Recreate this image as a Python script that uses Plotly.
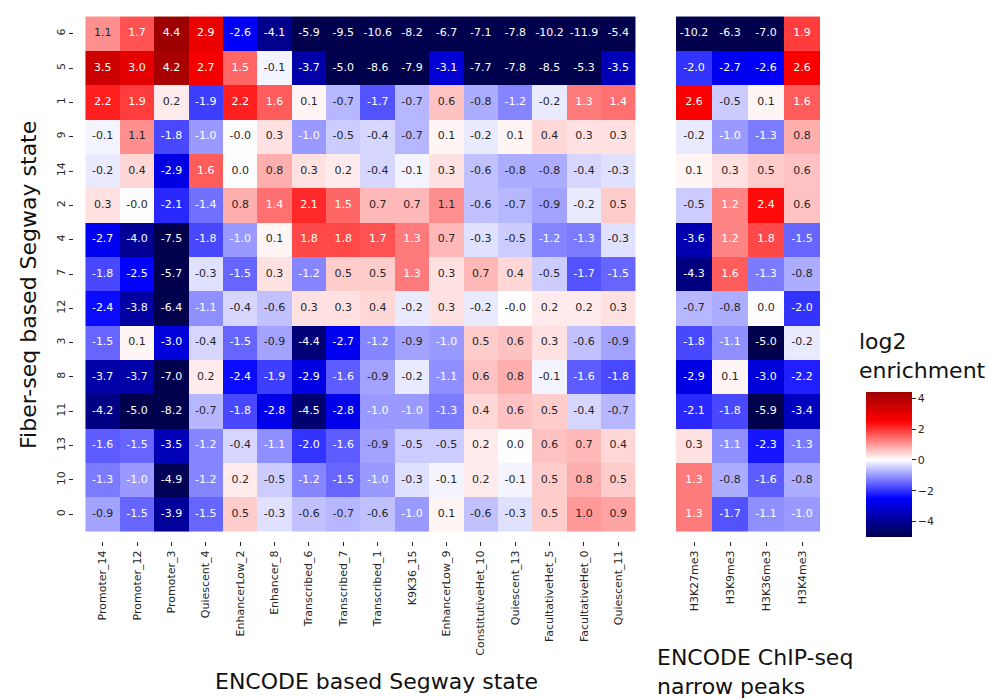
import plotly.graph_objects as go

rows = ["6", "5", "1", "9", "14", "2", "4", "7", "12", "3", "8", "11", "13", "10", "0"]
segway_states = ["Promoter_14", "Promoter_12", "Promoter_3", "Quiescent_4", "EnhancerLow_2",
                 "Enhancer_8", "Transcribed_6", "Transcribed_7", "Transcribed_1", "K9K36_15",
                 "EnhancerLow_9", "ConstitutiveHet_10", "Quiescent_13", "FacultativeHet_5",
                 "FacultativeHet_0", "Quiescent_11"]
chip_marks = ["H3K27me3", "H3K9me3", "H3K36me3", "H3K4me3"]

segway_values = [
    [1.1, 1.7, 4.4, 2.9, -2.6, -4.1, -5.9, -9.5, -10.6, -8.2, -6.7, -7.1, -7.8, -10.2, -11.9, -5.4],
    [3.5, 3.0, 4.2, 2.7, 1.5, -0.1, -3.7, -5.0, -8.6, -7.9, -3.1, -7.7, -7.8, -8.5, -5.3, -3.5],
    [2.2, 1.9, 0.2, -1.9, 2.2, 1.6, 0.1, -0.7, -1.7, -0.7, 0.6, -0.8, -1.2, -0.2, 1.3, 1.4],
    [-0.1, 1.1, -1.8, -1.0, -0.0, 0.3, -1.0, -0.5, -0.4, -0.7, 0.1, -0.2, 0.1, 0.4, 0.3, 0.3],
    [-0.2, 0.4, -2.9, 1.6, 0.0, 0.8, 0.3, 0.2, -0.4, -0.1, 0.3, -0.6, -0.8, -0.8, -0.4, -0.3],
    [0.3, -0.0, -2.1, -1.4, 0.8, 1.4, 2.1, 1.5, 0.7, 0.7, 1.1, -0.6, -0.7, -0.9, -0.2, 0.5],
    [-2.7, -4.0, -7.5, -1.8, -1.0, 0.1, 1.8, 1.8, 1.7, 1.3, 0.7, -0.3, -0.5, -1.2, -1.3, -0.3],
    [-1.8, -2.5, -5.7, -0.3, -1.5, 0.3, -1.2, 0.5, 0.5, 1.3, 0.3, 0.7, 0.4, -0.5, -1.7, -1.5],
    [-2.4, -3.8, -6.4, -1.1, -0.4, -0.6, 0.3, 0.3, 0.4, -0.2, 0.3, -0.2, -0.0, 0.2, 0.2, 0.3],
    [-1.5, 0.1, -3.0, -0.4, -1.5, -0.9, -4.4, -2.7, -1.2, -0.9, -1.0, 0.5, 0.6, 0.3, -0.6, -0.9],
    [-3.7, -3.7, -7.0, 0.2, -2.4, -1.9, -2.9, -1.6, -0.9, -0.2, -1.1, 0.6, 0.8, -0.1, -1.6, -1.8],
    [-4.2, -5.0, -8.2, -0.7, -1.8, -2.8, -4.5, -2.8, -1.0, -1.0, -1.3, 0.4, 0.6, 0.5, -0.4, -0.7],
    [-1.6, -1.5, -3.5, -1.2, -0.4, -1.1, -2.0, -1.6, -0.9, -0.5, -0.5, 0.2, 0.0, 0.6, 0.7, 0.4],
    [-1.3, -1.0, -4.9, -1.2, 0.2, -0.5, -1.2, -1.5, -1.0, -0.3, -0.1, 0.2, -0.1, 0.5, 0.8, 0.5],
    [-0.9, -1.5, -3.9, -1.5, 0.5, -0.3, -0.6, -0.7, -0.6, -1.0, 0.1, -0.6, -0.3, 0.5, 1.0, 0.9],
]

chip_values = [
    [-10.2, -6.3, -7.0, 1.9],
    [-2.0, -2.7, -2.6, 2.6],
    [2.6, -0.5, 0.1, 1.6],
    [-0.2, -1.0, -1.3, 0.8],
    [0.1, 0.3, 0.5, 0.6],
    [-0.5, 1.2, 2.4, 0.6],
    [-3.6, 1.2, 1.8, -1.5],
    [-4.3, 1.6, -1.3, -0.8],
    [-0.7, -0.8, 0.0, -2.0],
    [-1.8, -1.1, -5.0, -0.2],
    [-2.9, 0.1, -3.0, -2.2],
    [-2.1, -1.8, -5.9, -3.4],
    [0.3, -1.1, -2.3, -1.3],
    [1.3, -0.8, -1.6, -0.8],
    [1.3, -1.7, -1.1, -1.0],
]

ZMIN, ZMAX = -5.0, 4.4
VR = max(ZMAX, -ZMIN)

SEISMIC = [(0.0, (0.0, 0.0, 0.3)), (0.25, (0.0, 0.0, 1.0)), (0.5, (1.0, 1.0, 1.0)),
           (0.75, (1.0, 0.0, 0.0)), (1.0, (0.5, 0.0, 0.0))]


def seismic(s):
    s = min(max(s, 0.0), 1.0)
    for (p0, c0), (p1, c1) in zip(SEISMIC[:-1], SEISMIC[1:]):
        if s <= p1:
            t = (s - p0) / (p1 - p0)
            return tuple(a + (b - a) * t for a, b in zip(c0, c1))
    return SEISMIC[-1][1]


def value_color(v):
    v = min(max(v, ZMIN), ZMAX)
    return seismic(0.5 + v / (2 * VR))


def to_css(c):
    return "rgb(%d,%d,%d)" % tuple(round(x * 255) for x in c)


N = 61
colorscale = []
for i in range(N):
    p = i / (N - 1)
    v = ZMIN + p * (ZMAX - ZMIN)
    colorscale.append([p, to_css(value_color(v))])


def lum(c):
    lin = [x / 12.92 if x <= 0.03928 else ((x + 0.055) / 1.055) ** 2.4 for x in c]
    return 0.2126 * lin[0] + 0.7152 * lin[1] + 0.0722 * lin[2]


def text_trace(values, cols, xaxis):
    xs, ys, ts, cs = [], [], [], []
    for r, row in zip(rows, values):
        for c, v in zip(cols, row):
            xs.append(c)
            ys.append(r)
            ts.append(f"{v:.1f}")
            cs.append("#262626" if lum(value_color(v)) > 0.408 else "#ffffff")
    return go.Scatter(x=xs, y=ys, text=ts, mode="text", xaxis=xaxis, yaxis="y",
                      textfont=dict(size=11, color=cs, family="DejaVu Sans"),
                      hoverinfo="skip", showlegend=False)


W, H = 989, 698
fig = go.Figure()
fig.add_trace(go.Heatmap(z=segway_values, x=segway_states, y=rows, xaxis="x", yaxis="y",
                         zmin=ZMIN, zmax=ZMAX, colorscale=colorscale, showscale=False))
fig.add_trace(go.Heatmap(z=chip_values, x=chip_marks, y=rows, xaxis="x2", yaxis="y",
                         zmin=ZMIN, zmax=ZMAX, colorscale=colorscale, showscale=True,
                         colorbar=dict(x=866 / W, xanchor="left", xpad=0, ypad=0,
                                       y=(H - 537) / H, yanchor="bottom",
                                       len=145 / H, lenmode="fraction",
                                       thickness=46, thicknessmode="pixels",
                                       outlinewidth=0, ticks="outside", ticklen=4,
                                       tickcolor="#262626", tickvals=[-4, -2, 0, 2, 4],
                                       tickfont=dict(size=11, color="#262626"))))
fig.add_trace(text_trace(segway_values, segway_states, "x"))
fig.add_trace(text_trace(chip_values, chip_marks, "x2"))

axis_common = dict(showgrid=False, zeroline=False, showline=False, ticks="outside",
                   ticklen=4, tickcolor="#262626", tickwidth=1, automargin=False,
                   tickfont=dict(size=11, color="#262626"), type="category")
fig.update_layout(
    width=W, height=H, margin=dict(l=0, r=0, t=0, b=0),
    paper_bgcolor="white", plot_bgcolor="white",
    font=dict(family="DejaVu Sans", color="#111111"),
    xaxis=dict(domain=[74 / W, 647 / W], anchor="y", tickangle=-90, **axis_common),
    xaxis2=dict(domain=[676 / W, 820 / W], anchor="y", tickangle=-90, **axis_common),
    yaxis=dict(domain=[1 - 541 / H, 1 - 7 / H], anchor="x", autorange="reversed",
               tickangle=-90, **axis_common),
)

anns = [
    dict(text="ENCODE based Segway state", x=376 / W, y=1 - 681 / H, xanchor="center", yanchor="middle"),
    dict(text="ENCODE ChIP-seq<br>narrow peaks", x=655 / W, y=1 - 672 / H, xanchor="left",
         yanchor="middle", align="left"),
    dict(text="Fiber-seq based Segway state", x=28 / W, y=1 - 285 / H, xanchor="center",
         yanchor="middle", textangle=-90),
    dict(text="log2<br>enrichment", x=857 / W, y=1 - 356 / H, xanchor="left", yanchor="middle",
         align="left"),
]
for a in anns:
    fig.add_annotation(xref="paper", yref="paper", showarrow=False,
                       font=dict(size=22, color="#111111", family="DejaVu Sans"), **a)

fig.write_html("out.html")
